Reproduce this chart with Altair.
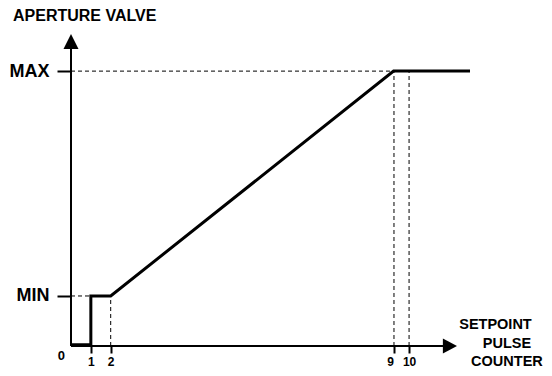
import altair as alt
import pandas as pd

# labelled counter ticks (x position in units of the first tick step)
tick_labels = ["1", "2", "9", "10"]
tick_pos = [1.0, 2.0, 16.27, 17.03]

# valve levels (% of MAX)
level_labels = ["MIN", "MAX"]
level_vals = [18.2, 100.0]

# valve opening curve
curve_x = [0.0, 1.0, 1.0, 2.0, 16.25, 20.1]
curve_y = [0.5, 0.5, 18.2, 18.2, 100.0, 100.0]

# axis extents (arrow centres) and scale domains
x_axis_end = 19.09
y_axis_end = 110.8
X_MAX = 20.15
Y_MAX = 113.5

y_title = "APERTURE VALVE"
x_title_lines = ["SETPOINT", "PULSE", "COUNTER"]
origin_label = "0"

FONT = "Liberation Sans"


def label_expr(vals, labels):
    expr = "''"
    for v, l in reversed(list(zip(vals, labels))):
        expr = f"abs(datum.value - {v}) < 0.01 ? '{l}' : ({expr})"
    return expr


xscale = alt.Scale(domain=[0, X_MAX], nice=False, zero=False)
yscale = alt.Scale(domain=[0, Y_MAX], nice=False, zero=False)

xaxis = alt.Axis(values=tick_pos, labelExpr=label_expr(tick_pos, tick_labels),
                 tickSize=7, tickWidth=2, tickColor="black", domain=False, grid=False,
                 labelFontSize=12, labelFontWeight="bold", labelFont=FONT,
                 labelColor="black", labelPadding=3, title=None,
                 labelOffset={"condition": {"test": f"abs(datum.value - {tick_pos[2]}) < 0.01",
                                            "value": -4}, "value": 0},
                 labelFlush=False, labelOverlap=False, labelBound=False)
yaxis = alt.Axis(values=level_vals, labelExpr=label_expr(level_vals, level_labels),
                 tickSize=14, tickWidth=2, tickColor="black", domain=False, grid=False,
                 labelFontSize=18, labelFontWeight="bold", labelFont=FONT,
                 labelColor="black", labelPadding=8, title=None,
                 labelFlush=False, labelOverlap=False, labelBound=False)

X = lambda f="x": alt.X(f"{f}:Q", scale=xscale, axis=xaxis)
Y = lambda f="y": alt.Y(f"{f}:Q", scale=yscale, axis=yaxis)

# dashed guide lines
guides = pd.DataFrame({
    "x": [0, 0, tick_pos[1], tick_pos[2], tick_pos[3]],
    "x2": [curve_x[2], curve_x[4], tick_pos[1], tick_pos[2], tick_pos[3]],
    "y": [level_vals[0], level_vals[1], 0, 0, 0],
    "y2": [level_vals[0], level_vals[1], level_vals[0], level_vals[1], level_vals[1]],
})
dashed = alt.Chart(guides).mark_rule(color="black", strokeWidth=1, strokeDash=[4, 3]).encode(
    x=X(), x2="x2:Q", y=Y(), y2="y2:Q")

axes_df = pd.DataFrame({"x": [0, 0], "x2": [x_axis_end, 0], "y": [0, 0], "y2": [0, y_axis_end]})
axis_lines = alt.Chart(axes_df).mark_rule(color="black", strokeWidth=2).encode(
    x=X(), x2="x2:Q", y=Y(), y2="y2:Q")

arrow_up = alt.Chart(pd.DataFrame({"x": [0], "y": [y_axis_end]})).mark_point(
    shape="M0,-1L-1,1L1,1Z", filled=True, size=225, color="black", opacity=1, strokeWidth=0
).encode(x=X(), y=Y())
arrow_right = alt.Chart(pd.DataFrame({"x": [x_axis_end], "y": [0]})).mark_point(
    shape="M1,0L-1,-1.05L-1,1.05Z", filled=True, size=200, color="black", opacity=1, strokeWidth=0
).encode(x=X(), y=Y())

curve_df = pd.DataFrame({"x": curve_x, "y": curve_y, "o": list(range(len(curve_x)))})
curve = alt.Chart(curve_df).mark_line(color="black", strokeWidth=3, strokeJoin="miter",
                                      strokeCap="butt").encode(x=X(), y=Y(), order="o:Q")

zero = alt.Chart(pd.DataFrame({"x": [0], "y": [0], "t": [origin_label]})).mark_text(
    align="right", baseline="top", dx=-6, dy=4, font=FONT, fontSize=13,
    fontWeight="bold", color="black").encode(x=X(), y=Y(), text="t:N")

ytitle = alt.Chart(pd.DataFrame({"x": [0], "y": [Y_MAX], "t": [y_title]})).mark_text(
    align="left", baseline="alphabetic", dx=-58, dy=-13, font=FONT, fontSize=16,
    fontWeight="bold", color="black").encode(x=X(), y=Y(), text="t:N")

offsets = [(45.5, -17), (57, 1.5), (57, 20)]
xtitles = []
for line, (ddx, ddy) in zip(x_title_lines, offsets):
    xtitles.append(alt.Chart(pd.DataFrame({"x": [x_axis_end], "y": [0], "t": [line]})).mark_text(
        align="center", baseline="alphabetic", dx=ddx, dy=ddy, font=FONT, fontSize=14.5,
        fontWeight="bold", color="black").encode(x=X(), y=Y(), text="t:N"))

chart = alt.layer(dashed, axis_lines, arrow_up, arrow_right, curve, zero, ytitle, *xtitles).properties(
    width=400, height=312,
    autosize=alt.AutoSizeParams(type="none"),
    padding={"left": 63, "top": 26, "right": 73, "bottom": 22},
    background="white",
).configure_view(stroke=None)

chart.save("out.html", embed_options={"renderer": "svg", "actions": False})
